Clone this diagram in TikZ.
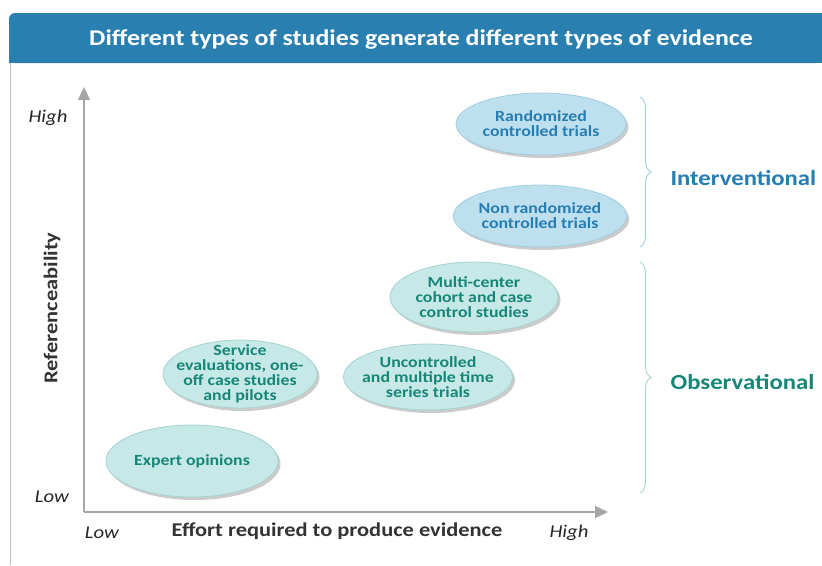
\documentclass[tikz,border=0pt]{standalone}
\usepackage{fontspec}
\setmainfont{Carlito}[FakeStretch=1.15]
\usetikzlibrary{shapes.geometric,shadows,arrows.meta,decorations.pathreplacing}
\definecolor{headblue}{RGB}{41,128,176}
\definecolor{axisgray}{RGB}{166,166,166}
\definecolor{intfill}{RGB}{190,224,238}
\definecolor{intedge}{RGB}{160,205,225}
\definecolor{inttext}{RGB}{38,125,178}
\definecolor{obsfill}{RGB}{198,232,230}
\definecolor{obsedge}{RGB}{165,212,208}
\definecolor{obstext}{RGB}{22,134,118}
\begin{document}
\begin{tikzpicture}[x=1pt, y=-1pt,
    study/.style={ellipse, draw, line width=0.8pt, inner sep=0pt, align=center,
      font=\bfseries\fontsize{15.5}{15}\selectfont,
      drop shadow={shadow xshift=2.5pt, shadow yshift=-3pt, fill=black!45, opacity=0.45}},
    intnode/.style={study, fill=intfill, draw=intedge, text=inttext},
    obsnode/.style={study, fill=obsfill, draw=obsedge, text=obstext},
    axislabel/.style={font=\itshape\fontsize{18}{18}\selectfont, text=black!85},
    axisname/.style={font=\bfseries\fontsize{19.5}{19.5}\selectfont, text=black!80},
    groupbrace/.style={decorate, decoration={brace, amplitude=11pt}, line width=0.9pt}]
  \useasboundingbox (0,0) rectangle (822,565);

  % header and frame
  \fill[headblue, rounded corners=6pt] (9,13) -- (822,13) -- (822,63) -- (9,63) -- cycle;
  \fill[headblue] (400,13) rectangle (822,63);
  \fill[headblue] (9,30) rectangle (822,63);
  \node[text=white, font=\bfseries\fontsize{22.5}{22.5}\selectfont] (title) at (421,39)
    {Different types of studies generate different types of evidence};
  \draw[black!25, line width=0.8pt] (10,63) -- (10,565);

  % axes
  \coordinate (origin) at (84,512);
  \coordinate (ytop) at (84,87);
  \coordinate (xend) at (608,512);
  \draw[axisgray, line width=2pt, -{Triangle[length=13pt, width=12pt]}] (origin) -- (ytop);
  \draw[axisgray, line width=2pt, -{Triangle[length=13pt, width=12pt]}] (origin) -- (xend);

  \node[axislabel] (yhigh) at (48,118) {High};
  \node[axislabel] (ylow) at (52,497) {Low};
  \node[axislabel] (xlow) at (102,533) {Low};
  \node[axislabel] (xhigh) at (569,533) {High};
  \node[axisname] (xname) at (337,531) {Effort required to produce evidence};
  \node[axisname, rotate=90] (yname) at (52,308) {Referenceability};

  % studies
  \node[intnode, minimum width=170pt, minimum height=62pt] (rct) at (541,124)
    {Randomized\\controlled trials};
  \node[intnode, minimum width=172pt, minimum height=62pt] (nrct) at (540,216)
    {Non randomized\\controlled trials};
  \node[obsnode, inner xsep=-2pt, minimum width=168pt, minimum height=70pt] (multi) at (474,297)
    {Multi-center\\cohort and case\\control studies};
  \node[obsnode, inner xsep=-10pt, inner ysep=-6pt, minimum width=154pt, minimum height=68pt] (service) at (240,374)
    {Service\\evaluations, one-\\off case studies\\and pilots};
  \node[obsnode, inner xsep=-7pt, minimum width=169pt, minimum height=66pt] (uncontr) at (428,377)
    {Uncontrolled\\and multiple time\\series trials};
  \node[obsnode, minimum width=172pt, minimum height=72pt] (expert) at (192,461)
    {Expert opinions};

  % groups
  \coordinate (intA) at (640,97);
  \coordinate (intB) at (640,247);
  \coordinate (obsA) at (640,262);
  \coordinate (obsB) at (640,493);
  \draw[groupbrace, draw=intedge] (intA) -- (intB);
  \draw[groupbrace, draw=obsedge] (obsA) -- (obsB);
  \node[anchor=west, text=inttext, font=\bfseries\fontsize{21.5}{21.5}\selectfont] (interv) at (667,178)
    {Interventional};
  \node[anchor=west, text=obstext, font=\bfseries\fontsize{21.5}{21.5}\selectfont] (observ) at (667,382)
    {Observational};
\end{tikzpicture}
\end{document}
